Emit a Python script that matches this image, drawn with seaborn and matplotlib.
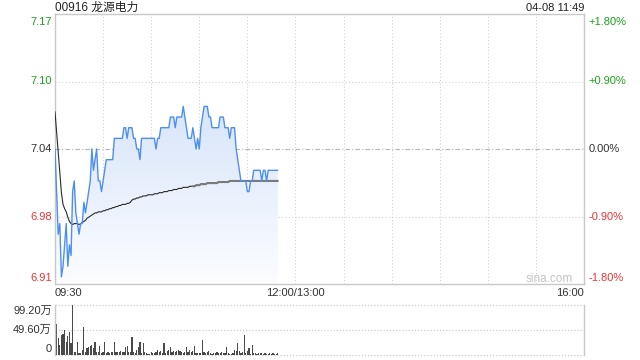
import numpy as np
import pandas as pd
import matplotlib
matplotlib.use("Agg")
import matplotlib.pyplot as plt
from matplotlib.colors import LinearSegmentedColormap
import seaborn as sns

# ---------------- data ----------------
stock_title = "00916 龙源电力"
timestamp = "04-08 11:49"
prev_close = 7.04
pct_levels = [1.8, 0.9, 0.0, -0.9, -1.8]
price_labels = ["7.17", "7.10", "7.04", "6.98", "6.91"]
pct_labels = ["+1.80%", "+0.90%", "0.00%", "-0.90%", "-1.80%"]
time_labels = ["09:30", "12:00/13:00", "16:00"]
time_ticks = [0, 150, 330]
vol_labels = ["99.20万", "49.60万", "0"]
vol_ticks = [99.2, 49.6, 0.0]

minutes = list(range(140))

price = [
    7.04, 7.00, 6.96, 6.97, 6.92, 6.93, 6.95, 6.97, 6.93, 6.95,
    6.94, 7.00, 7.01, 6.98, 6.97, 6.96, 6.97, 6.97, 6.99, 6.98,
    6.99, 7.00, 7.01, 7.04, 7.02, 7.03, 7.04, 7.01, 7.01, 7.00,
    7.01, 7.02, 7.03, 7.03, 7.03, 7.03, 7.03, 7.05, 7.05, 7.05,
    7.05, 7.05, 7.05, 7.06, 7.06, 7.05, 7.06, 7.06, 7.06, 7.05,
    7.05, 7.04, 7.04, 7.03, 7.05, 7.05, 7.05, 7.05, 7.05, 7.05,
    7.05, 7.05, 7.05, 7.04, 7.05, 7.05, 7.06, 7.06, 7.06, 7.06,
    7.06, 7.06, 7.07, 7.07, 7.07, 7.06, 7.07, 7.07, 7.07, 7.07,
    7.08, 7.07, 7.06, 7.05, 7.05, 7.05, 7.06, 7.05, 7.04, 7.05,
    7.04, 7.06, 7.07, 7.08, 7.08, 7.08, 7.07, 7.07, 7.06, 7.06,
    7.06, 7.06, 7.06, 7.07, 7.07, 7.07, 7.06, 7.06, 7.06, 7.05,
    7.06, 7.06, 7.06, 7.04, 7.03, 7.02, 7.01, 7.01, 7.01, 7.01,
    7.00, 7.00, 7.01, 7.01, 7.02, 7.02, 7.02, 7.02, 7.02, 7.01,
    7.02, 7.02, 7.01, 7.02, 7.02, 7.02, 7.02, 7.02, 7.02, 7.02,
]

avg_price = [
    7.075, 7.056, 7.037, 7.018, 6.999, 6.988, 6.984, 6.981, 6.976, 6.972,
    6.970, 6.969, 6.970, 6.970, 6.970, 6.969, 6.970, 6.971, 6.972, 6.973,
    6.975, 6.976, 6.977, 6.978, 6.979, 6.980, 6.980, 6.981, 6.981, 6.981,
    6.982, 6.982, 6.983, 6.983, 6.984, 6.984, 6.985, 6.985, 6.986, 6.986,
    6.987, 6.987, 6.988, 6.988, 6.988, 6.989, 6.989, 6.990, 6.992, 6.993,
    6.993, 6.994, 6.994, 6.995, 6.995, 6.996, 6.996, 6.996, 6.997, 6.997,
    6.997, 6.997, 6.998, 6.998, 6.998, 6.999, 6.999, 6.999, 7.000, 7.000,
    7.000, 7.001, 7.001, 7.001, 7.002, 7.002, 7.002, 7.003, 7.003, 7.003,
    7.004, 7.004, 7.004, 7.004, 7.005, 7.005, 7.005, 7.005, 7.006, 7.006,
    7.006, 7.007, 7.007, 7.007, 7.007, 7.008, 7.008, 7.008, 7.008, 7.008,
    7.008, 7.008, 7.009, 7.009, 7.009, 7.009, 7.009, 7.009, 7.009, 7.010,
    7.010, 7.010, 7.010, 7.010, 7.010, 7.010, 7.010, 7.010, 7.010, 7.010,
    7.010, 7.010, 7.010, 7.010, 7.010, 7.010, 7.010, 7.010, 7.010, 7.010,
    7.010, 7.010, 7.010, 7.010, 7.010, 7.010, 7.010, 7.010, 7.010, 7.010,
]

volume = [  # 万股
    38, 61, 34, 20, 40, 41, 50, 26, 38, 46, 23, 99.2,
    5, 6, 26, 3, 3, 10, 56, 6, 13, 15, 17, 20,
    13, 26, 6, 5, 18, 3, 5, 26, 3, 5, 3, 5,
    6, 26, 5, 6, 5, 8, 5, 6, 15, 17, 6, 5,
    35, 6, 3, 10, 15, 26, 3, 23, 5, 3, 2, 2,
    5, 3, 3, 5, 10, 5, 8, 3, 23, 3, 8, 10,
    15, 5, 7, 5, 7, 10, 7, 5, 3, 5, 15, 5,
    10, 5, 7, 17, 3, 3, 3, 3, 30, 5, 3, 5,
    7, 3, 2, 3, 3, 5, 3, 3, 5, 3, 3, 15,
    3, 2, 1, 3, 10, 7, 23, 7, 3, 5, 40, 3,
    7, 13, 2, 20, 3, 3, 2, 3, 3, 3, 2, 3,
    1, 2, 3, 2, 3, 1, 1, 3,
]

df = pd.DataFrame({"minute": minutes, "price": price, "avg": avg_price, "volume": volume})

# ---------------- style ----------------
sns.set_style("white")
plt.rcParams["font.family"] = ["Liberation Sans", "Noto Sans CJK SC", "DejaVu Sans"]
FS = 8
GREEN = "#1aa31a"
RED = "#ee3333"
DARK = "#333333"
GRID = "#d2d2d2"
BORDER = "#c8c8c8"

fig = plt.figure(figsize=(6.4, 3.6), dpi=100)
W, H = 640, 360
ax = fig.add_axes([55 / W, 1 - 284 / H, 529 / W, 270 / H])
axv = fig.add_axes([55 / W, 1 - 355 / H, 529 / W, 50 / H])

lo = prev_close * (1 + pct_levels[-1] / 100)
hi = prev_close * (1 + pct_levels[0] / 100)
level_vals = [prev_close * (1 + p / 100) for p in pct_levels]

# ---------------- gradient fill ----------------
coll = ax.fill_between(df["minute"], df["price"], lo, facecolor="none", edgecolor="none")
cmap = LinearSegmentedColormap.from_list("g", ["#fcfdff", "#d8e5fa"])
grad = np.linspace(0, 1, 256).reshape(-1, 1)
im = ax.imshow(grad, cmap=cmap, origin="lower", aspect="auto",
               extent=[df["minute"].min(), df["minute"].max(), lo, df["price"].max()], zorder=1)
im.set_clip_path(coll.get_paths()[0], transform=ax.transData)

# ---------------- lines ----------------
sns.lineplot(data=df, x="minute", y="avg", ax=ax, color="#2b2b2b", lw=0.8, zorder=3)
sns.lineplot(data=df[df["minute"] >= 86], x="minute", y="avg", ax=ax, color="#7a7a7a", lw=1.5, zorder=3)
sns.lineplot(data=df, x="minute", y="price", ax=ax, color="#4d8ff0", lw=1.0, zorder=4)

ax.set_xlim(0, 330)
ax.set_ylim(lo, hi)
ax.set_xticks([])
ax.set_yticks([])
ax.set_xlabel("")
ax.set_ylabel("")
for s in ax.spines.values():
    s.set_color(BORDER)
    s.set_linewidth(1.0)

# grid
for m in range(30, 330, 30):
    ax.axvline(m, color=GRID, lw=0.8, ls=(0, (1, 2)), zorder=0)
for i, v in enumerate(level_vals):
    if i in (1, 3):
        ax.axhline(v, color=GRID, lw=0.8, ls=(0, (1, 2)), zorder=0)
    elif i == 2:
        ax.axhline(v, color="#b4b4b4", lw=0.8, ls=(0, (4, 2, 1, 2)), zorder=0)

# y labels
ycolors = [GREEN, GREEN, DARK, RED, RED]
vas = ["top", "center", "center", "center", "bottom"]
offs = [-2, 0, 0, 0, 1]
for v, lab, pl, c, va, o in zip(level_vals, price_labels, pct_labels, ycolors, vas, offs):
    ax.annotate(lab, xy=(0, v), xycoords=("axes fraction", "data"), xytext=(-2.2, o),
                textcoords="offset points", ha="right", va=va, color=c, fontsize=FS)
    ax.annotate(pl, xy=(1, v), xycoords=("axes fraction", "data"), xytext=(3.5, o),
                textcoords="offset points", ha="left", va=va, color=c, fontsize=FS)

# x labels
has = ["left", "center", "right"]
for t, lab, ha in zip(time_ticks, time_labels, has):
    ax.text(t, -0.033, lab, transform=ax.get_xaxis_transform(), ha=ha, va="center",
            color=DARK, fontsize=FS)

ax.text(0.979, 0.02, "sina.com", transform=ax.transAxes, ha="right", va="center",
        color="#c4c4c4", fontsize=8.5)

fig.text(55 / W, 1 - 8 / H, stock_title, ha="left", va="center", color="#222222", fontsize=8.5)
fig.text(584 / W, 1 - 8 / H, timestamp, ha="right", va="center", color="#222222", fontsize=FS)

# ---------------- volume ----------------
sns.barplot(data=df, x="minute", y="volume", ax=axv, native_scale=True, color="#4a4a4a",
            saturation=1, width=0.75, errorbar=None, linewidth=0)
axv.set_xlim(0, 330)
axv.set_ylim(0, vol_ticks[0])
axv.set_xticks([])
axv.set_yticks([])
axv.set_xlabel("")
axv.set_ylabel("")
for side in ("top", "bottom"):
    axv.spines[side].set_visible(False)
for side in ("left", "right"):
    axv.spines[side].set_color(BORDER)
    axv.spines[side].set_linewidth(1.0)
for v in vol_ticks:
    axv.axhline(v, color="#cccccc", lw=0.9, ls=(0, (1, 1.5)), zorder=0, clip_on=False)
vvas = ["top", "center", "bottom"]
voffs = [-1, 0, 1]
for v, lab, va, o in zip(vol_ticks, vol_labels, vvas, voffs):
    axv.annotate(lab, xy=(0, v), xycoords=("axes fraction", "data"), xytext=(-2.2, o),
                 textcoords="offset points", ha="right", va=va, color=DARK, fontsize=FS)

fig.savefig("out.png", dpi=100)
